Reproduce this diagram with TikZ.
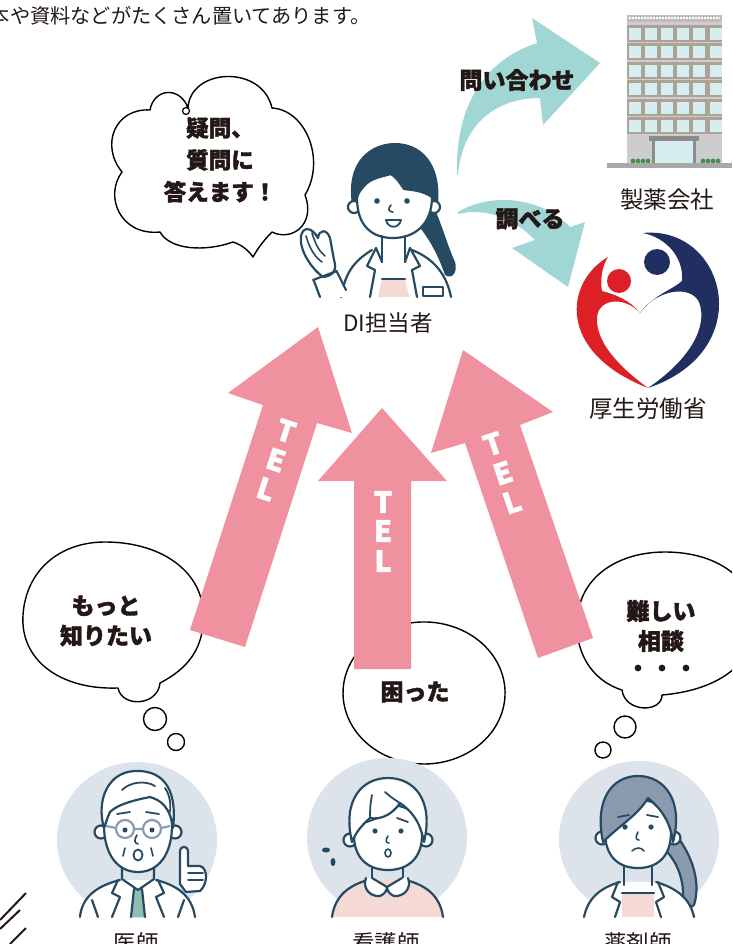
\documentclass[tikz,border=0pt]{standalone}
\usepackage{fontspec}
\setmainfont{Noto Sans CJK JP}[BoldFeatures={FakeBold=1.6}]
\usetikzlibrary{calc}

\definecolor{ink}{RGB}{35,24,21}
\definecolor{navy}{RGB}{38,74,98}
\definecolor{tealarrow}{RGB}{160,214,211}
\definecolor{pinkarrow}{RGB}{239,145,158}
\definecolor{bgcircle}{RGB}{221,227,234}
\definecolor{shirtpink}{RGB}{245,217,213}
\definecolor{hairgray}{RGB}{138,155,176}
\definecolor{glassgray}{RGB}{140,155,175}
\definecolor{tiegreen}{RGB}{143,191,178}
\definecolor{mhlwred}{RGB}{220,32,38}
\definecolor{mhlwnavy}{RGB}{32,46,96}
\definecolor{bldgwall}{RGB}{205,205,205}
\definecolor{bldgroof}{RGB}{190,190,190}
\definecolor{bldgstripe}{RGB}{172,162,150}
\definecolor{bldgwindow}{RGB}{214,238,240}
\definecolor{canopy}{RGB}{140,140,140}
\definecolor{groundgray}{RGB}{168,168,168}
\definecolor{shrub}{RGB}{70,140,80}

\tikzset{
  stroke/.style={draw=navy, line width=2.2pt, line cap=round, line join=round},
  bubble/.style={draw=black, line width=1.4pt, fill=white, line join=round},
  saytext/.style={font=\fontsize{23}{30}\selectfont\bfseries, text=ink, align=center, inner sep=0pt},
  caption/.style={font=\fontsize{22.5}{26}\selectfont, text=ink, inner sep=0pt},
  telletter/.style={font=\fontsize{29}{29}\selectfont\bfseries, text=white, inner sep=0pt},
  eye/.style={fill=navy},
}

\begin{document}
\begin{tikzpicture}[x=1pt,y=-1pt]
\useasboundingbox (0,0) rectangle (732,944);
\clip (0,0) rectangle (732,944);

% ---------- heading line ----------
\node[anchor=west, font=\fontsize{20.2}{21}\selectfont, text=ink, inner sep=0pt] (intro) at (-10.3,16) {本や資料などがたくさん置いてあります。};

% ---------- office building ----------
\fill[bldgwall] (627,15) rectangle (722,163);
\fill[bldgroof] (627,15) rectangle (722,22);
\draw[white, line width=1.2pt, dash pattern=on 1.5pt off 1.5pt] (629,18) -- (720,18);
\foreach \r in {0,...,5}{
  \fill[bldgstripe] (627,{25+18.4*\r}) rectangle (722,{42+18.4*\r});
  \foreach \c in {0,...,5}{
    \fill[bldgwindow] ({628.5+16.2*\c},{28+18.4*\r}) rectangle ({640.5+16.2*\c},{40+18.4*\r});
  }
}
\fill[bldgwindow] (653,141) rectangle (695,163);
\fill[canopy] (649,136) rectangle (699,141);
\fill[canopy] (652,141) rectangle (655,163);
\fill[canopy] (693,141) rectangle (696,163);
\foreach \x in {633,638,643,648, 703,708,713,718}{
  \fill[shrub] (\x,161) circle[radius=2.4];
}
\fill[groundgray] (607,163) rectangle (732,168);
\node[caption, font=\fontsize{23.5}{26}\selectfont] (maker) at (667,200) {製薬会社};

% ---------- ministry emblem ----------
\fill[mhlwred] (608,257) .. controls (565,282) and (556,352) .. (648,388)
  .. controls (618,366) and (596,342) .. (597,318)
  .. controls (598,298) and (625,296) .. (640,313)
  .. controls (630,300) and (614,294) .. (602,291)
  .. controls (600,280) and (602,266) .. (608,257) -- cycle;
\fill[mhlwred] (619,281) circle[radius=12];
\fill[mhlwnavy] (643,233) .. controls (725,225) and (760,350) .. (648,388)
  .. controls (692,358) and (708,325) .. (699,302)
  .. controls (690,284) and (656,290) .. (640,313)
  .. controls (655,294) and (672,290) .. (682,281)
  .. controls (684,258) and (667,238) .. (643,233) -- cycle;
\fill[mhlwnavy] (657,262) circle[radius=13];
\node[caption, font=\fontsize{23.5}{26}\selectfont] (ministry) at (648,409) {厚生労働省};

% ---------- teal arrows ----------
\fill[tealarrow] (457,175) .. controls (455,105) and (485,60) .. (537,43)
  -- (532,18) -- (600,63) -- (543,125) -- (540,98)
  .. controls (495,98) and (462,125) .. (458,175) -- cycle;
\node[saytext] (askmaker) at (517,80) {問い合わせ};
\fill[tealarrow] (458,212) .. controls (495,190) and (545,200) .. (570,227)
  -- (585,222) -- (568,287) -- (512,248) -- (535,240)
  .. controls (510,215) and (482,208) .. (458,214) -- cycle;
\node[saytext] (lookup) at (530,219) {調べる};

% ---------- cloud bubble of the DI staff ----------
\draw[bubble] (233,242) .. controls (205,252) and (170,250) .. (160,232)
  .. controls (120,236) and (104,196) .. (122,172)
  .. controls (100,145) and (115,108) .. (150,110)
  .. controls (154,88) and (180,86) .. (188,108)
  .. controls (190,68) and (262,64) .. (272,108)
  .. controls (306,110) and (326,160) .. (305,195)
  .. controls (316,224) and (292,242) .. (272,232)
  .. controls (264,240) and (258,248) .. (253,257)
  .. controls (248,250) and (242,245) .. (233,242) -- cycle;
\draw[black, line width=1.2pt] (186,111) circle[radius=3.5];
\node[saytext, font=\fontsize{22.5}{32}\selectfont\bfseries] (answer) at (220,160) {疑問、\\質問に\\答えます！};

% ---------- DI staff member ----------
\fill[navy] (425,190) .. controls (440,215) and (445,240) .. (455,262)
  .. controls (458,272) and (452,280) .. (445,275)
  .. controls (438,255) and (430,240) .. (418,225) -- cycle;
\fill[navy] (352,205) .. controls (345,160) and (372,143) .. (395,143)
  .. controls (420,143) and (442,162) .. (438,205) -- cycle;
\draw[stroke, fill=white] (354,207) circle[radius=6];
\draw[stroke, fill=white] (434,207) circle[radius=6];
\draw[stroke, fill=white] (357,198) .. controls (357,226) and (372,238) .. (393,238)
  .. controls (415,238) and (432,224) .. (432,197)
  .. controls (422,190) and (410,190) .. (404,189)
  .. controls (400,183) and (396,177) .. (391,174)
  .. controls (384,176) and (372,178) .. (366,184)
  .. controls (361,189) and (358,193) .. (357,198) -- cycle;
\fill[eye] (377,201) circle[radius=2.8];
\fill[eye] (407,201) circle[radius=2.8];
\draw[stroke, line width=1.6pt] (391,205) .. controls (387,209) and (389,212) .. (393,212);
\draw[stroke, line width=1.8pt, fill=white] (386,220) .. controls (388,229) and (399,229) .. (401,220) -- cycle;
% coat and neck
\fill[white] (341,297) .. controls (345,275) and (352,262) .. (372,250) -- (412,250)
  .. controls (432,258) and (446,272) .. (451,297) -- cycle;
\draw[stroke] (341,297) .. controls (345,275) and (352,262) .. (372,250);
\draw[stroke] (412,250) .. controls (432,258) and (446,272) .. (451,297);
\fill[shirtpink] (382,279) -- (405,279) -- (409,297) -- (378,297) -- cycle;
\draw[stroke] (382,279) -- (405,279);
\draw[stroke] (382,236) -- (382,262);
\draw[stroke] (405,236) -- (405,262);
\draw[stroke] (376,248) -- (367,266) -- (375,270) -- (370,297);
\draw[stroke] (410,248) -- (420,266) -- (412,270) -- (417,297);
\draw[stroke] (376,248) -- (382,262) (410,248) -- (405,262);
\draw[stroke] (423,287) rectangle (443,296);
% raised hand
\fill[white] (314,281) -- (337,272) -- (350,297) -- (320,297) -- cycle;
\draw[stroke] (314,281) -- (320,297) (337,272) -- (346,290);
\draw[stroke, fill=white] (323,277) .. controls (311,268) and (299,250) .. (301,236)
  .. controls (303,226) and (312,227) .. (318,238)
  .. controls (319,229) and (327,229) .. (330,238)
  -- (334,260) .. controls (337,269) and (334,276) .. (323,277) -- cycle;
\draw[stroke, line width=1.6pt] (306,236) .. controls (310,250) and (316,258) .. (322,262);
\draw[stroke, line width=1.6pt] (312,233) .. controls (316,246) and (320,252) .. (325,256);
\draw[stroke] (313,280) -- (337,271);
\node[caption] (distaff) at (388,323) {DI担当者};

% ---------- thought and speech bubbles ----------
\draw[bubble] (118,688) .. controls (60,690) and (20,660) .. (23,615)
  .. controls (26,570) and (60,542) .. (105,542)
  .. controls (160,542) and (200,570) .. (203,610)
  .. controls (206,650) and (185,670) .. (160,683)
  .. controls (158,706) and (122,708) .. (118,688) -- cycle;
\draw[bubble] (155,719) circle[radius=11.5];
\draw[bubble] (176,742) circle[radius=8.5];
\node[saytext] (wantmore) at (106,621) {もっと\\知りたい};

\draw[bubble] (393.7,758.8) arc[start angle=112, end angle=458, x radius=81, y radius=71];
\draw[black, line width=1.4pt] (404,760) .. controls (402,770) and (397,776) .. (395,787);
\node[saytext] (trouble) at (415,692) {困った};

\draw[bubble] (622,690) .. controls (590,680) and (575,650) .. (577,620)
  .. controls (580,575) and (620,552) .. (665,552)
  .. controls (710,552) and (748,572) .. (755,612)
  .. controls (760,662) and (720,690) .. (662,695)
  .. controls (662,713) and (625,713) .. (622,690) -- cycle;
\draw[bubble] (625,727) circle[radius=11];
\draw[bubble] (603,750) circle[radius=8];
\node[saytext] (hardcase) at (661,626) {難しい\\相談};
\foreach \x in {638,662,686}{ \fill[ink] (\x,668) circle[radius=3.4]; }

% ---------- pink TEL arrows ----------
\fill[pinkarrow] (190,630) -- (263,405) -- (228,393) -- (318,327) -- (352,433) -- (317,423) -- (245,647) -- cycle;
\fill[pinkarrow] (354,669) -- (354,481) -- (318,481) -- (382,408) -- (447,481) -- (411,481) -- (411,669) -- cycle;
\fill[pinkarrow] (538,658) -- (465,443) -- (431,453) -- (463,350) -- (553,412) -- (520,425) -- (593,638) -- cycle;
\node[telletter, rotate=-18] (telA1) at (286,431) {T};
\node[telletter, rotate=-18] (telA2) at (276,460) {E};
\node[telletter, rotate=-18] (telA3) at (266,489) {L};
\node[telletter] (telB1) at (383,502) {T};
\node[telletter] (telB2) at (383,531) {E};
\node[telletter] (telB3) at (383,561) {L};
\node[telletter, rotate=18.5] (telC1) at (493,444) {T};
\node[telletter, rotate=18.5] (telC2) at (503,473) {E};
\node[telletter, rotate=18.5] (telC3) at (512,502) {L};

% ---------- portrait backgrounds ----------
\fill[bgcircle] (137,840) ellipse[x radius=80, y radius=78];
\fill[bgcircle] (387,837) ellipse[x radius=80, y radius=79];
\fill[bgcircle] (639,839) ellipse[x radius=80, y radius=78];

% ---------- doctor ----------
\fill[white] (80,917) .. controls (82,895) and (100,885) .. (120,880) -- (156,880)
  .. controls (176,885) and (192,895) .. (195,917) -- cycle;
\draw[stroke] (80,917) .. controls (82,895) and (100,885) .. (120,880);
\draw[stroke] (156,880) .. controls (176,885) and (192,895) .. (195,917);
\fill[tiegreen] (134,889) -- (142,889) -- (145,917) -- (131,917) -- cycle;
\draw[stroke] (134,889) -- (131,917) (142,889) -- (145,917);
\draw[stroke] (122,864) -- (122,879) -- (138,890) -- (154,879) -- (154,864);
\draw[stroke] (118,880) -- (112,893) -- (120,897) -- (112,917);
\draw[stroke] (158,880) -- (164,893) -- (156,897) -- (164,917);
\draw[stroke] (92,900) -- (98,917) (184,900) -- (178,917);
\draw[stroke, fill=white] (101,832) circle[radius=6.5];
\draw[stroke, fill=white] (175,832) circle[radius=6.5];
\draw[stroke, fill=white] (104,825) .. controls (104,855) and (118,872) .. (138,872)
  .. controls (158,872) and (172,855) .. (172,825)
  .. controls (172,795) and (158,790) .. (138,790)
  .. controls (118,790) and (104,795) .. (104,825) -- cycle;
\draw[stroke, fill=white] (104,828) .. controls (96,800) and (108,772) .. (135,771)
  .. controls (160,770) and (178,785) .. (173,828)
  .. controls (170,806) and (160,800) .. (150,797)
  .. controls (135,800) and (118,804) .. (110,812)
  .. controls (107,818) and (106,823) .. (104,828) -- cycle;
\draw[stroke, line width=1.8pt] (122,790) .. controls (130,782) and (145,780) .. (155,786);
\draw[stroke, line width=1.8pt] (165,788) .. controls (170,795) and (171,805) .. (170,812);
\draw[glassgray, line width=2.2pt] (125,829) circle[radius=9] (152,829) circle[radius=9];
\draw[glassgray, line width=2.2pt] (134,829) -- (143,829) (116,828) -- (106,826) (161,828) -- (170,826);
\fill[eye] (125,830) circle[radius=2.5];
\fill[eye] (152,830) circle[radius=2.5];
\draw[stroke, line width=1.8pt] (117,814) -- (130,812) (146,812) -- (159,814);
\draw[stroke, line width=1.6pt] (137,835) .. controls (134,840) and (134,843) .. (138,844);
\draw[stroke, line width=1.8pt, fill=white] (138,855) ellipse[x radius=4.5, y radius=5.5];
\draw[stroke, line width=1.6pt] (125,848) -- (123,856) (151,848) -- (153,856);
\draw[stroke, fill=white] (180,884) -- (180,852) .. controls (180,845) and (188,845) .. (188,852)
  -- (188,866) -- (200,866) .. controls (208,868) and (208,884) .. (200,891) -- (186,892) -- cycle;
\draw[stroke, line width=1.6pt] (188,873) -- (203,873) (188,880) -- (203,880);

% ---------- nurse ----------
\fill[shirtpink] (332,917) .. controls (335,895) and (350,885) .. (368,880) -- (406,880)
  .. controls (425,885) and (440,895) .. (443,917) -- cycle;
\draw[stroke] (332,917) .. controls (335,895) and (350,885) .. (368,880);
\draw[stroke] (406,880) .. controls (425,885) and (440,895) .. (443,917);
\draw[stroke] (372,862) -- (372,880) (403,862) -- (403,880);
\draw[stroke, fill=white] (366,878) .. controls (362,888) and (370,897) .. (380,896)
  .. controls (385,894) and (387,890) .. (387,887) -- (372,878);
\draw[stroke, fill=white] (408,878) .. controls (412,888) and (404,897) .. (394,896)
  .. controls (389,894) and (387,890) .. (387,887) -- (402,878);
\draw[stroke, fill=white] (350,840) circle[radius=6.5];
\draw[stroke, fill=white] (426,840) circle[radius=6.5];
\draw[stroke, fill=white] (354,835) .. controls (354,860) and (370,870) .. (388,870)
  .. controls (406,870) and (422,860) .. (422,835)
  .. controls (422,812) and (406,805) .. (388,805)
  .. controls (370,805) and (354,812) .. (354,835) -- cycle;
\draw[stroke, fill=white] (352,842) .. controls (342,800) and (362,778) .. (388,778)
  .. controls (414,778) and (434,800) .. (424,842)
  .. controls (420,820) and (410,810) .. (400,803)
  .. controls (392,815) and (380,820) .. (370,818)
  .. controls (362,825) and (356,832) .. (352,842) -- cycle;
\draw[stroke, line width=1.8pt] (385,792) .. controls (392,798) and (398,802) .. (400,803);
\draw[stroke, line width=1.8pt] (372,795) .. controls (370,805) and (370,812) .. (370,818);
\fill[eye] (375,831) circle[radius=2.6];
\fill[eye] (401,831) circle[radius=2.6];
\draw[stroke, line width=1.8pt] (367,822) -- (378,818) (397,818) -- (408,822);
\draw[stroke, line width=1.6pt] (388,836) .. controls (385,840) and (386,843) .. (389,843);
\draw[stroke, line width=1.6pt] (388,853) ellipse[x radius=3, y radius=4];
\fill[navy] (326,850) ellipse[x radius=4, y radius=2.5];
\fill[navy] (333,862) ellipse[x radius=2.5, y radius=4];

% ---------- pharmacist ----------
\draw[stroke, fill=hairgray] (668,826) .. controls (690,848) and (702,880) .. (694,905)
  .. controls (688,910) and (682,905) .. (683,898)
  .. controls (684,878) and (676,858) .. (660,845) -- cycle;
\fill[white] (584,917) .. controls (588,898) and (600,888) .. (620,882) -- (656,882)
  .. controls (676,888) and (690,898) .. (694,917) -- cycle;
\draw[stroke] (584,917) .. controls (588,898) and (600,888) .. (620,882);
\draw[stroke] (656,882) .. controls (676,888) and (690,898) .. (694,917);
\fill[shirtpink] (622,893) -- (654,893) -- (654,917) -- (622,917) -- cycle;
\draw[stroke] (622,893) -- (654,893);
\draw[stroke] (624,862) -- (624,885) (652,862) -- (652,885);
\draw[stroke] (618,882) -- (612,897) -- (620,902) -- (615,917);
\draw[stroke] (658,882) -- (664,897) -- (656,902) -- (661,917);
\draw[stroke, fill=white] (602,838) circle[radius=6.5];
\draw[stroke, fill=white] (674,838) circle[radius=6.5];
\draw[stroke, fill=white] (605,832) .. controls (605,858) and (620,868) .. (638,868)
  .. controls (656,868) and (671,858) .. (671,832)
  .. controls (671,808) and (656,800) .. (638,800)
  .. controls (620,800) and (605,808) .. (605,832) -- cycle;
\draw[stroke, fill=hairgray] (603,842) .. controls (594,800) and (612,776) .. (638,776)
  .. controls (664,776) and (684,800) .. (673,842)
  .. controls (670,820) and (660,808) .. (648,798)
  .. controls (638,815) and (620,825) .. (603,842) -- cycle;
\fill[eye] (625,827) circle[radius=2.6];
\fill[eye] (651,827) circle[radius=2.6];
\draw[stroke, line width=1.8pt] (618,817) -- (629,815) (647,815) -- (658,817);
\draw[stroke, line width=1.6pt] (638,832) .. controls (635,837) and (636,840) .. (639,840);
\draw[stroke, line width=1.6pt] (632,851) .. controls (636,847) and (641,847) .. (644,851);

% ---------- names under portraits ----------
\node[caption, anchor=north] (doctor) at (136,932) {医師};
\node[caption, anchor=north] (nurse) at (386,932) {看護師};
\node[caption, anchor=north] (pharmacist) at (638,932) {薬剤師};

% ---------- corner strokes ----------
\draw[ink, line width=2pt] (26,893) -- (0,920);
\draw[ink, line width=2pt] (20,910) -- (0,929);
\draw[ink, line width=2pt] (26,928) -- (10,944);
\end{tikzpicture}
\end{document}
